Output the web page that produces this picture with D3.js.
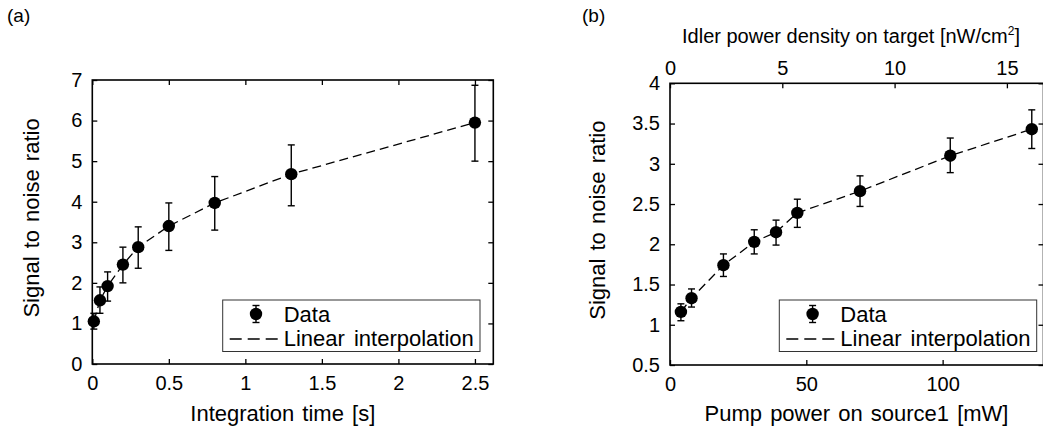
<!DOCTYPE html>
<html>
<head>
<meta charset="utf-8">
<script src="https://cdn.jsdelivr.net/npm/d3@7"></script>
<style>
  body { margin: 0; background: #fff; }
  svg { display: block; }
</style>
</head>
<body>
<svg id="main-svg"></svg>
<script>
// panel (a): SNR vs integration time
let timeS = [0.01, 0.05, 0.1, 0.2, 0.3, 0.5, 0.8, 1.3, 2.5];
let snrA = [1.05, 1.57, 1.92, 2.45, 2.88, 3.40, 3.97, 4.68, 5.95];
let snrAHigh = [1.25, 1.90, 2.27, 2.88, 3.38, 3.97, 4.62, 5.40, 6.87];
let snrALow = [0.86, 1.25, 1.55, 2.00, 2.36, 2.80, 3.30, 3.90, 5.00];
let ticksAX = [0, 0.5, 1, 1.5, 2, 2.5];
let ticksAY = [0, 1, 2, 3, 4, 5, 6, 7];

// panel (b): SNR vs pump power
let pumpMW = [4.0, 7.9, 19.6, 30.9, 38.9, 46.7, 69.7, 102.8, 132.7];
let snrB = [1.16, 1.33, 1.74, 2.03, 2.15, 2.39, 2.66, 3.10, 3.43];
let snrBHigh = [1.26, 1.445, 1.88, 2.18, 2.30, 2.56, 2.85, 3.32, 3.67];
let snrBLow = [1.05, 1.22, 1.60, 1.88, 1.99, 2.21, 2.47, 2.89, 3.19];
let ticksBX = [0, 50, 100];
let ticksBTop = [0, 5, 10, 15];
let ticksBY = [0.5, 1, 1.5, 2, 2.5, 3, 3.5, 4];

let legendLabels = ['Data', 'Linear interpolation'];

let width = 1043;
let height = 432;
let font = 'Liberation Sans, Arial, sans-serif';
let fmt = d3.format('~g');
let tickFont = 20;

let svg = d3.select('#main-svg')
  .attr('width', width)
  .attr('height', height);

function styleAxis(g, size) {
  g.attr('font-family', font).attr('font-size', size);
  g.selectAll('.domain').remove();
  g.selectAll('line').attr('stroke', '#000').attr('stroke-width', 1.3);
  g.selectAll('text').attr('fill', '#000');
}

function drawPanel(cfg) {
  let { x, y, xs, ys, hi, lo, left, right, top, bottom } = cfg;
  let root = svg.append('g');

  root.append('g')
    .attr('transform', `translate(0 ${bottom})`)
    .call(d3.axisBottom(x).tickValues(cfg.xTicks).tickFormat(fmt).tickSizeInner(-5).tickSizeOuter(0).tickPadding(12))
    .call(styleAxis, tickFont);

  root.append('g')
    .attr('transform', `translate(${left} 0)`)
    .call(d3.axisLeft(y).tickValues(cfg.yTicks).tickFormat(fmt).tickSizeInner(-5).tickSizeOuter(0).tickPadding(10))
    .call(styleAxis, tickFont);

  // mirrored ticks on right side
  root.append('g')
    .attr('transform', `translate(${right} 0)`)
    .call(d3.axisRight(y).tickValues(cfg.yTicks).tickFormat('').tickSizeInner(-5).tickSizeOuter(0))
    .call(styleAxis, tickFont);

  if (cfg.topScale) {
    root.append('g')
      .attr('transform', `translate(0 ${top})`)
      .call(d3.axisTop(cfg.topScale).tickValues(cfg.topTicks).tickFormat(fmt).tickSizeInner(-5).tickSizeOuter(0).tickPadding(8))
      .call(styleAxis, tickFont);
  } else {
    root.append('g')
      .attr('transform', `translate(0 ${top})`)
      .call(d3.axisTop(x).tickValues(cfg.xTicks).tickFormat('').tickSizeInner(-5).tickSizeOuter(0))
      .call(styleAxis, tickFont);
  }

  // frame
  root.append('rect')
    .attr('x', left).attr('y', top)
    .attr('width', right - left).attr('height', bottom - top)
    .style('fill', 'none').style('stroke', '#000').style('stroke-width', 1.6);

  let pts = xs.map((d, i) => [x(d), y(ys[i])]);

  root.append('path').datum(pts)
    .attr('d', d3.line())
    .style('fill', 'none')
    .style('stroke', '#000')
    .style('stroke-width', 1.3)
    .style('stroke-dasharray', '9,5');

  let bars = root.selectAll('g.err').data(xs).enter().append('g').attr('class', 'err');
  bars.append('line')
    .attr('x1', d => x(d)).attr('x2', d => x(d))
    .attr('y1', (d, i) => y(hi[i])).attr('y2', (d, i) => y(lo[i]));
  bars.append('line')
    .attr('x1', d => x(d) - 3.5).attr('x2', d => x(d) + 3.5)
    .attr('y1', (d, i) => y(hi[i])).attr('y2', (d, i) => y(hi[i]));
  bars.append('line')
    .attr('x1', d => x(d) - 3.5).attr('x2', d => x(d) + 3.5)
    .attr('y1', (d, i) => y(lo[i])).attr('y2', (d, i) => y(lo[i]));
  bars.selectAll('line').style('stroke', '#000').style('stroke-width', 1.4);

  root.selectAll('circle.pt').data(xs).enter().append('circle')
    .attr('class', 'pt')
    .attr('cx', d => x(d))
    .attr('cy', (d, i) => y(ys[i]))
    .attr('r', 6.2)
    .style('fill', '#000');

  // legend
  let lg = root.append('g').attr('transform', `translate(${cfg.legend[0]} ${cfg.legend[1]})`);
  lg.append('rect')
    .attr('width', cfg.legend[2]).attr('height', 51.5)
    .style('fill', '#fff').style('stroke', '#333').style('stroke-width', 1);
  lg.append('line').attr('x1', 33.3).attr('x2', 33.3).attr('y1', 5.5).attr('y2', 22.5);
  lg.append('line').attr('x1', 29.8).attr('x2', 36.8).attr('y1', 5.5).attr('y2', 5.5);
  lg.append('line').attr('x1', 29.8).attr('x2', 36.8).attr('y1', 22.5).attr('y2', 22.5);
  lg.selectAll('line').style('stroke', '#000').style('stroke-width', 1.4);
  lg.append('circle').attr('cx', 33.3).attr('cy', 14).attr('r', 6.2).style('fill', '#000');
  lg.append('line').attr('x1', 7).attr('x2', 56).attr('y1', 39).attr('y2', 39)
    .style('stroke', '#000').style('stroke-width', 1.5).style('stroke-dasharray', '12,6');
  lg.selectAll('text').data(legendLabels).enter().append('text')
    .attr('x', 61)
    .attr('y', (d, i) => i === 0 ? 21.5 : 45.5)
    .attr('font-family', font)
    .attr('font-size', 22)
    .attr('word-spacing', 3)
    .text(d => d);

  // axis labels
  root.append('text')
    .attr('x', (left + Math.min(right, width)) / 2 + cfg.xLabelShift)
    .attr('y', 421)
    .attr('text-anchor', 'middle')
    .attr('font-family', font).attr('font-size', 22).attr('word-spacing', 2)
    .text(cfg.xLabel);

  root.append('text')
    .attr('transform', `translate(${cfg.yLabelX} ${(top + bottom) / 2 - 4}) rotate(-90)`)
    .attr('text-anchor', 'middle')
    .attr('font-family', font).attr('font-size', 22).attr('word-spacing', 2)
    .text('Signal to noise ratio');

  root.append('text')
    .attr('x', cfg.tag[0]).attr('y', cfg.tag[1])
    .attr('font-family', font).attr('font-size', 19)
    .text(cfg.tagText);

  return root;
}

let xA = d3.scaleLinear().domain([0, 2.62]).range([92.3, 493.3]);
let yA = d3.scaleLinear().domain([0, 7]).range([364, 80]);

drawPanel({
  x: xA, y: yA, xs: timeS, ys: snrA, hi: snrAHigh, lo: snrALow,
  left: 92.3, right: 493.3, top: 80, bottom: 364,
  xTicks: ticksAX, yTicks: ticksAY,
  legend: [222.7, 300, 257.3],
  xLabel: 'Integration time [s]', xLabelShift: -10,
  yLabelX: 39,
  tag: [7, 22], tagText: '(a)'
});

let xB = d3.scaleLinear().domain([0, 137]).range([670, 1043.5]);
let xBTop = d3.scaleLinear().domain([0, 16.63]).range([670, 1043.5]);
let yB = d3.scaleLinear().domain([0.5, 4]).range([365, 83.3]);

let panelB = drawPanel({
  x: xB, y: yB, xs: pumpMW, ys: snrB, hi: snrBHigh, lo: snrBLow,
  left: 670, right: 1043.5, top: 83.3, bottom: 365,
  xTicks: ticksBX, yTicks: ticksBY,
  topScale: xBTop, topTicks: ticksBTop,
  legend: [779.3, 300, 257.4],
  xLabel: 'Pump power on source1 [mW]', xLabelShift: 0,
  yLabelX: 605,
  tag: [582, 22], tagText: '(b)'
});

let topLabel = panelB.append('text')
  .attr('x', 851).attr('y', 43)
  .attr('text-anchor', 'middle')
  .attr('font-family', font).attr('font-size', 20)
  .text('Idler power density on target [nW/cm');
topLabel.append('tspan').attr('dy', -8).attr('font-size', 12).text('2');
topLabel.append('tspan').attr('dy', 8).text(']');
</script>
</body>
</html>
